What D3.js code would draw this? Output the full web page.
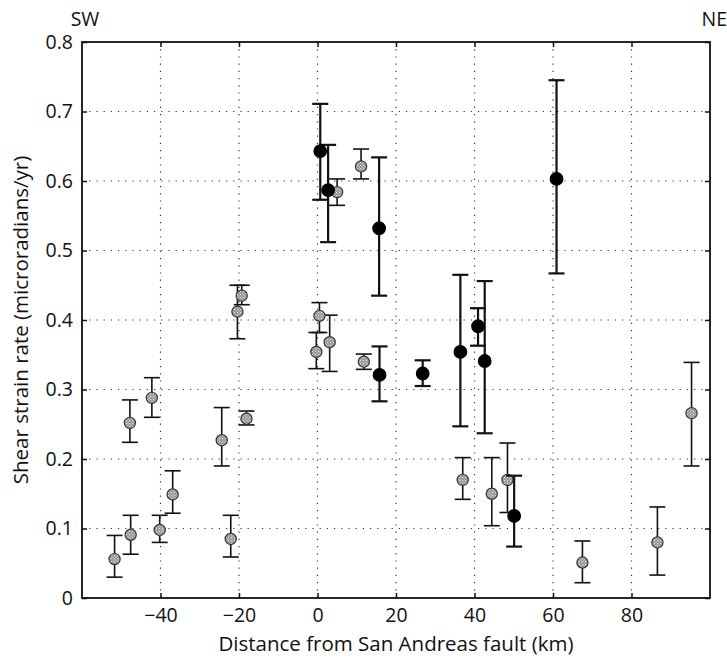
<!DOCTYPE html>
<html>
<head>
<meta charset="utf-8">
<script src="https://cdn.jsdelivr.net/npm/d3@7"></script>
<style>
  body { margin: 0; background: #fff; }
  svg text { font-family: "Open Sans", "Noto Sans", sans-serif; fill: #111; }
</style>
</head>
<body>
<svg width="727" height="661"></svg>
<script>
// grey (hatched) stations
const greyKm  = [-51.7, -47.6, -47.8, -42.2, -40.2, -36.9, -24.4, -22.1, -20.4, -19.3, -18.1, -0.3, 0.5, 3.1, 5.0, 11.1, 11.8, 37.0, 44.4, 48.4, 67.5, 86.6, 95.3];
const greyVal = [0.056, 0.091, 0.252, 0.288, 0.098, 0.149, 0.227, 0.085, 0.412, 0.435, 0.258, 0.354, 0.406, 0.368, 0.584, 0.621, 0.340, 0.170, 0.150, 0.170, 0.051, 0.080, 0.266];
const greyLo  = [0.030, 0.063, 0.224, 0.260, 0.080, 0.122, 0.190, 0.059, 0.373, 0.422, 0.249, 0.330, 0.382, 0.326, 0.565, 0.603, 0.329, 0.142, 0.104, 0.123, 0.022, 0.033, 0.190];
const greyHi  = [0.090, 0.119, 0.285, 0.317, 0.119, 0.183, 0.274, 0.119, 0.450, 0.450, 0.269, 0.382, 0.425, 0.407, 0.603, 0.646, 0.351, 0.202, 0.202, 0.223, 0.082, 0.131, 0.339];

// black stations
const blackKm  = [0.7, 2.7, 15.7, 15.8, 26.8, 36.4, 40.9, 42.6, 50.1, 60.9];
const blackVal = [0.643, 0.587, 0.532, 0.321, 0.323, 0.354, 0.391, 0.341, 0.118, 0.603];
const blackLo  = [0.573, 0.512, 0.435, 0.283, 0.305, 0.247, 0.363, 0.237, 0.074, 0.467];
const blackHi  = [0.711, 0.652, 0.634, 0.362, 0.342, 0.465, 0.417, 0.456, 0.176, 0.745];

const xTicks = [-40, -20, 0, 20, 40, 60, 80];
const yTicks = [0, 0.1, 0.2, 0.3, 0.4, 0.5, 0.6, 0.7, 0.8];

const svg = d3.select("svg");
const pl = 82, pr = 710, pt = 42, pb = 598;

const x = d3.scaleLinear().domain([-60, 100]).range([pl, pr]);
const y = d3.scaleLinear().domain([0, 0.8]).range([pb, pt]);

// speckled fill for the grey markers
const pat = svg.append("defs").append("pattern")
    .attr("id", "speck")
    .attr("width", 3).attr("height", 3)
    .attr("patternUnits", "userSpaceOnUse");
pat.append("rect").attr("width", 3).attr("height", 3).attr("fill", "#909090");
pat.append("rect").attr("x", 0).attr("y", 0).attr("width", 1.2).attr("height", 1.2).attr("fill", "#e6e6e6");
pat.append("rect").attr("x", 1.5).attr("y", 1.5).attr("width", 1.2).attr("height", 1.2).attr("fill", "#d0d0d0");

// dotted grid
const grid = svg.append("g").attr("stroke", "#333").attr("stroke-width", 1.2)
    .attr("stroke-dasharray", "1.2,6");
grid.selectAll(".gx").data(xTicks).enter().append("line")
    .attr("x1", d => x(d)).attr("x2", d => x(d))
    .attr("y1", pt).attr("y2", pb);
grid.selectAll(".gy").data(yTicks.slice(1, -1)).enter().append("line")
    .attr("x1", pl).attr("x2", pr)
    .attr("y1", d => y(d)).attr("y2", d => y(d));

// axes, ticks pointing inward on all four sides
svg.append("g")
    .attr("transform", `translate(0,${pb})`)
    .call(d3.axisBottom(x).tickValues(xTicks).tickSize(-5).tickPadding(10).tickFormat(d3.format("")))
    .call(g => g.select(".domain").remove())
    .call(g => g.selectAll("text").attr("font-size", 19.5));
svg.append("g")
    .attr("transform", `translate(0,${pt})`)
    .call(d3.axisTop(x).tickValues(xTicks).tickSize(-5).tickFormat(""))
    .call(g => g.select(".domain").remove());
svg.append("g")
    .attr("transform", `translate(${pl},0)`)
    .call(d3.axisLeft(y).tickValues(yTicks).tickSize(-5).tickPadding(9).tickFormat(d => d === 0 ? "0" : d3.format(".1f")(d)))
    .call(g => g.select(".domain").remove())
    .call(g => g.selectAll("text").attr("font-size", 19.5));
svg.append("g")
    .attr("transform", `translate(${pr},0)`)
    .call(d3.axisRight(y).tickValues(yTicks).tickSize(-5).tickFormat(""))
    .call(g => g.select(".domain").remove());
svg.selectAll(".tick line").attr("stroke", "#111").attr("stroke-width", 1.5);

svg.append("rect")
    .attr("x", pl).attr("y", pt)
    .attr("width", pr - pl).attr("height", pb - pt)
    .attr("fill", "none").attr("stroke", "#111").attr("stroke-width", 1.8);

// error bars + markers
function drawSeries(km, val, lo, hi, cls, lw, r, fill, stroke) {
    const data = km.map((k, i) => ({ k, v: val[i], lo: lo[i], hi: hi[i] }));
    const g = svg.append("g").attr("class", cls).attr("stroke", "#111");
    const cap = 8;
    const bars = g.selectAll(".eb").data(data).enter().append("g").attr("stroke-width", lw);
    bars.append("line")
        .attr("x1", d => x(d.k)).attr("x2", d => x(d.k))
        .attr("y1", d => y(d.lo)).attr("y2", d => y(d.hi));
    bars.append("line")
        .attr("x1", d => x(d.k) - cap).attr("x2", d => x(d.k) + cap)
        .attr("y1", d => y(d.hi)).attr("y2", d => y(d.hi));
    bars.append("line")
        .attr("x1", d => x(d.k) - cap).attr("x2", d => x(d.k) + cap)
        .attr("y1", d => y(d.lo)).attr("y2", d => y(d.lo));
    g.selectAll("circle").data(data).enter().append("circle")
        .attr("cx", d => x(d.k)).attr("cy", d => y(d.v))
        .attr("r", r)
        .attr("fill", fill)
        .attr("stroke", stroke).attr("stroke-width", 1.2);
}
drawSeries(greyKm, greyVal, greyLo, greyHi, "grey", 1.6, 5.6, "url(#speck)", "#333");
drawSeries(blackKm, blackVal, blackLo, blackHi, "black", 2.2, 6.3, "#000", "#000");

// labels
svg.append("text").attr("x", 85).attr("y", 26).attr("text-anchor", "middle")
    .attr("font-size", 19.5).text("SW");
svg.append("text").attr("x", 727).attr("y", 26).attr("text-anchor", "end")
    .attr("font-size", 19.5).text("NE");
svg.append("text")
    .attr("x", (pl + pr) / 2).attr("y", 651)
    .attr("text-anchor", "middle").attr("font-size", 20.5)
    .text("Distance from San Andreas fault (km)");
svg.append("text")
    .attr("transform", `translate(28,${(pt + pb) / 2}) rotate(-90)`)
    .attr("text-anchor", "middle").attr("font-size", 20.5)
    .text("Shear strain rate (microradians/yr)");
</script>
</body>
</html>
